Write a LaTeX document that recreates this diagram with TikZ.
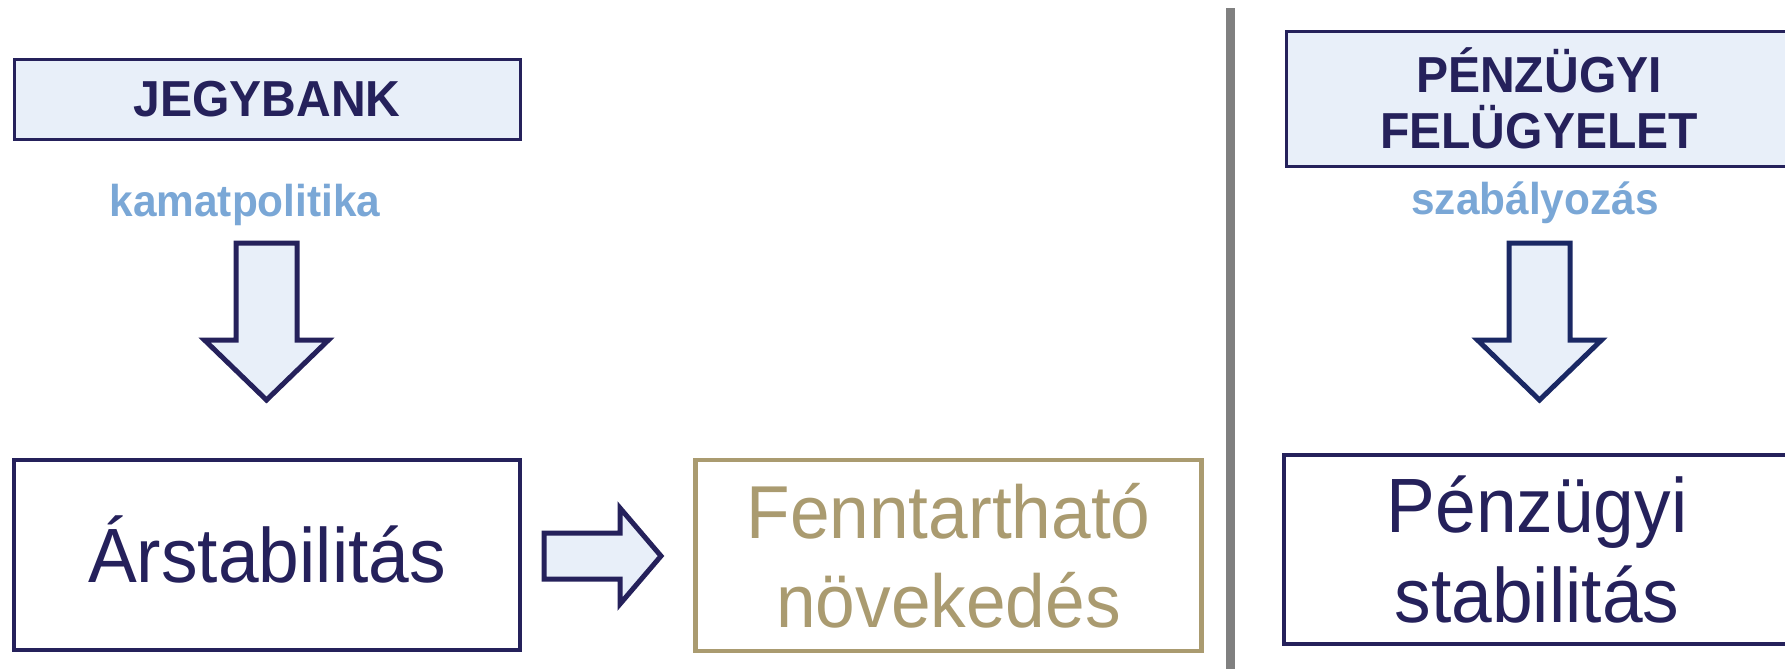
\documentclass[tikz,border=0pt]{standalone}
\usepackage{fontspec}
\setmainfont{Liberation Sans}[FakeStretch=0.95]
\definecolor{mnbnavy}{RGB}{37,33,91}
\definecolor{pszafnavy}{RGB}{26,40,100}
\definecolor{boxfill}{RGB}{232,239,249}
\definecolor{toolblue}{RGB}{122,167,214}
\definecolor{goaltan}{RGB}{170,155,112}
\definecolor{divider}{RGB}{128,128,128}

\tikzset{
  inst/.style={draw=mnbnavy, line width=1.5pt, fill=boxfill, text=mnbnavy, align=center,
    inner sep=0pt, minimum width=253pt, font=\bfseries\fontsize{25.3}{28}\selectfont},
  tool/.style={anchor=base, text=toolblue, font=\bfseries\fontsize{22.3}{26}\selectfont},
  goal/.style={draw=mnbnavy, line width=2.2pt, text=mnbnavy, align=center, inner sep=0pt,
    minimum width=253pt, minimum height=95pt, font=\fontsize{38.5}{45}\selectfont},
  blockarrow/.style={draw=mnbnavy, line width=2.5pt, fill=boxfill, line join=miter}
}

\begin{document}
\begin{tikzpicture}[x=0.5pt,y=-0.5pt]
\clip (0,0) rectangle (1785,671);

% central bank side
\node[inst, minimum height=40pt] (jegybank) at (267,99.5) {JEGYBANK};
\node[tool] (kamat) at (245,216) {kamatpolitika};
\node[goal, text height=27pt, text depth=0pt] (arstab) at (267,555) {Árstabilitás};
\node[goal, draw=goaltan, text=goaltan, minimum height=95.5pt, font=\fontsize{37.5}{44.5}\selectfont]
  (noveked) at (948.5,555.5) {Fenntartható\\növekedés};

\draw[blockarrow] (236,243) -- (297,243) -- (297,340) -- (328.5,340) -- (266.5,400)
  -- (204.5,340) -- (236,340) -- cycle;
\draw[blockarrow] (544,533) -- (620,533) -- (620,508) -- (661,556) -- (620,604)
  -- (620,579) -- (544,579) -- cycle;

% divider
\draw[divider, line width=4.5pt] (1230.5,8) -- (1230.5,669);

% supervisory side
\node[inst, minimum height=67.5pt] (felugyelet) at (1539,98.5) {PÉNZÜGYI\\FELÜGYELET};
\node[tool] (szabaly) at (1535,214) {szabályozás};
\node[goal, minimum height=94.5pt] (penzstab) at (1537,549.5) {Pénzügyi\\stabilitás};

\draw[blockarrow, draw=pszafnavy] (1509,243) -- (1570,243) -- (1570,340) -- (1601.5,340)
  -- (1539.5,400) -- (1477.5,340) -- (1509,340) -- cycle;

\end{tikzpicture}
\end{document}
